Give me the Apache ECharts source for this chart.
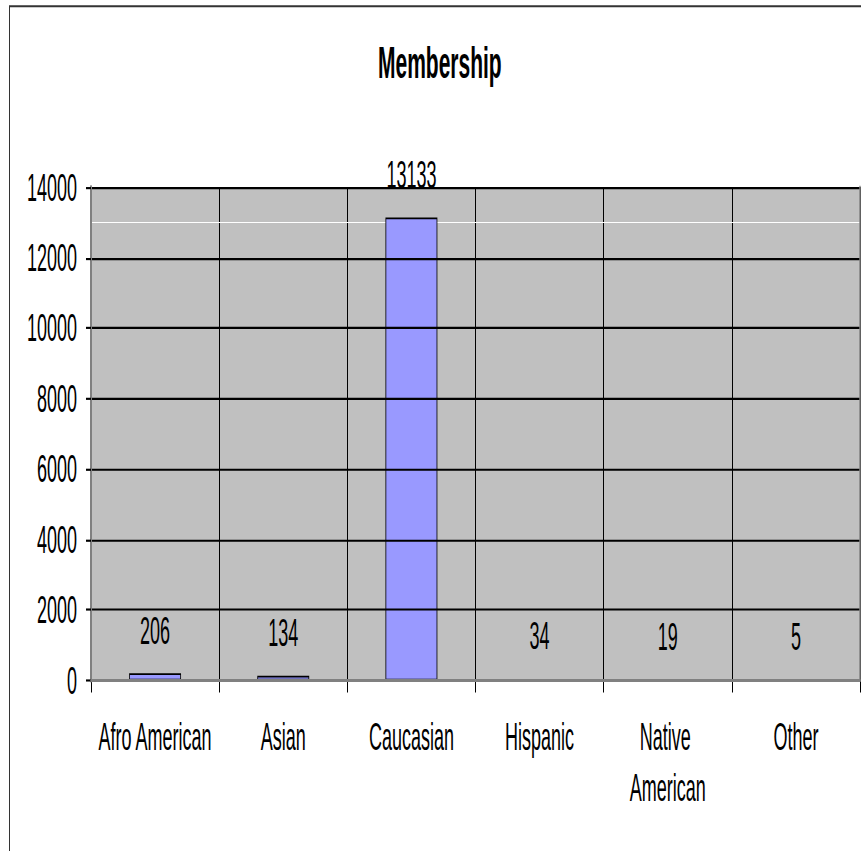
<!DOCTYPE html>
<html><head><meta charset="utf-8">
<script src="https://cdn.jsdelivr.net/npm/echarts@6/dist/echarts.min.js"></script>
<style>
html,body{margin:0;padding:0;background:#fff;overflow:hidden;width:861px;height:851px}
#wrap{width:861px;height:851px;overflow:hidden;position:relative}
#chart{width:861px;height:395.8px;transform:scaleY(2.15);transform-origin:0 0}
</style></head><body><div id="wrap"><div id="chart"></div></div>
<script>
// Data
const titleText = 'Membership';
const categories = ['Afro American', 'Asian', 'Caucasian', 'Hispanic', 'Native American', 'Other'];
const values = [206, 134, 13133, 34, 19, 5];
const yMin = 0;
const yMax = 14000;
const yInterval = 2000;
const whiteRefLine = 13000;

const FONT = 'Liberation Sans, Arial, sans-serif';
const chart = echarts.init(document.getElementById('chart'), null, { renderer: 'svg' });

chart.setOption({
  animation: false,
  backgroundColor: '#ffffff',
  title: {
    text: titleText,
    left: 378,
    top: 18.5,
    padding: 0,
    textStyle: { fontFamily: FONT, fontSize: 21, fontWeight: 'bold', color: '#000', lineHeight: 21 }
  },
  graphic: [{
    type: 'rect', silent: true, z: -1,
    shape: { x: 9.5, y: 2.9, width: 1000, height: 1000 },
    style: { fill: 'none', stroke: '#333333', lineWidth: 1 }
  }],
  grid: { left: 91, right: 1, top: 87, bottom: 79.5, show: true, backgroundColor: '#c0c0c0', borderWidth: 0 },
  xAxis: [{
    type: 'category',
    position: 'bottom',
    data: categories,
    axisLine: { show: true, lineStyle: { color: '#000', width: 1 } },
    axisTick: { show: true, length: 5.6, lineStyle: { color: '#000', width: 1 } },
    axisLabel: { color: '#000', fontFamily: FONT, fontSize: 18, lineHeight: 24, margin: 14, width: 120, overflow: 'break', interval: 0 },
    splitLine: { show: true, lineStyle: { color: '#000', width: 1 } }
  }, {
    type: 'category',
    position: 'top',
    data: categories,
    z: 5,
    axisLine: { show: true, lineStyle: { color: '#808080', width: 1.4 } },
    axisTick: { show: false },
    axisLabel: { show: false },
    splitLine: { show: false }
  }],
  yAxis: [{
    type: 'value',
    position: 'left',
    min: yMin, max: yMax, interval: yInterval,
    z: 3,
    axisLine: { show: true, lineStyle: { color: '#808080', width: 2 } },
    axisTick: { show: true, length: 5, lineStyle: { color: '#000', width: 1 } },
    axisLabel: { color: '#000', fontFamily: FONT, fontSize: 18, margin: 14, formatter: (v) => String(v) },
    splitLine: { show: true, lineStyle: { color: '#000', width: 1 } }
  }, {
    type: 'value',
    position: 'right',
    min: yMin, max: yMax, interval: yInterval,
    z: 5,
    axisLine: { show: true, lineStyle: { color: '#808080', width: 1.5 } },
    axisTick: { show: false },
    axisLabel: { show: false },
    splitLine: { show: false }
  }],
  series: [{
    type: 'bar',
    xAxisIndex: 0,
    yAxisIndex: 0,
    data: values,
    barWidth: '40.5%',
    itemStyle: { color: '#9999ff', borderColor: '#000', borderWidth: 0.8 },
    label: { show: true, position: 'top', distance: 11, color: '#000', fontFamily: FONT, fontSize: 18, lineHeight: 18 },
    markLine: {
      silent: true, z: 1, symbol: 'none',
      label: { show: false },
      lineStyle: { color: '#ffffff', width: 0.5, type: 'solid' },
      data: [{ yAxis: whiteRefLine }]
    }
  }]
});
</script>
</body></html>
